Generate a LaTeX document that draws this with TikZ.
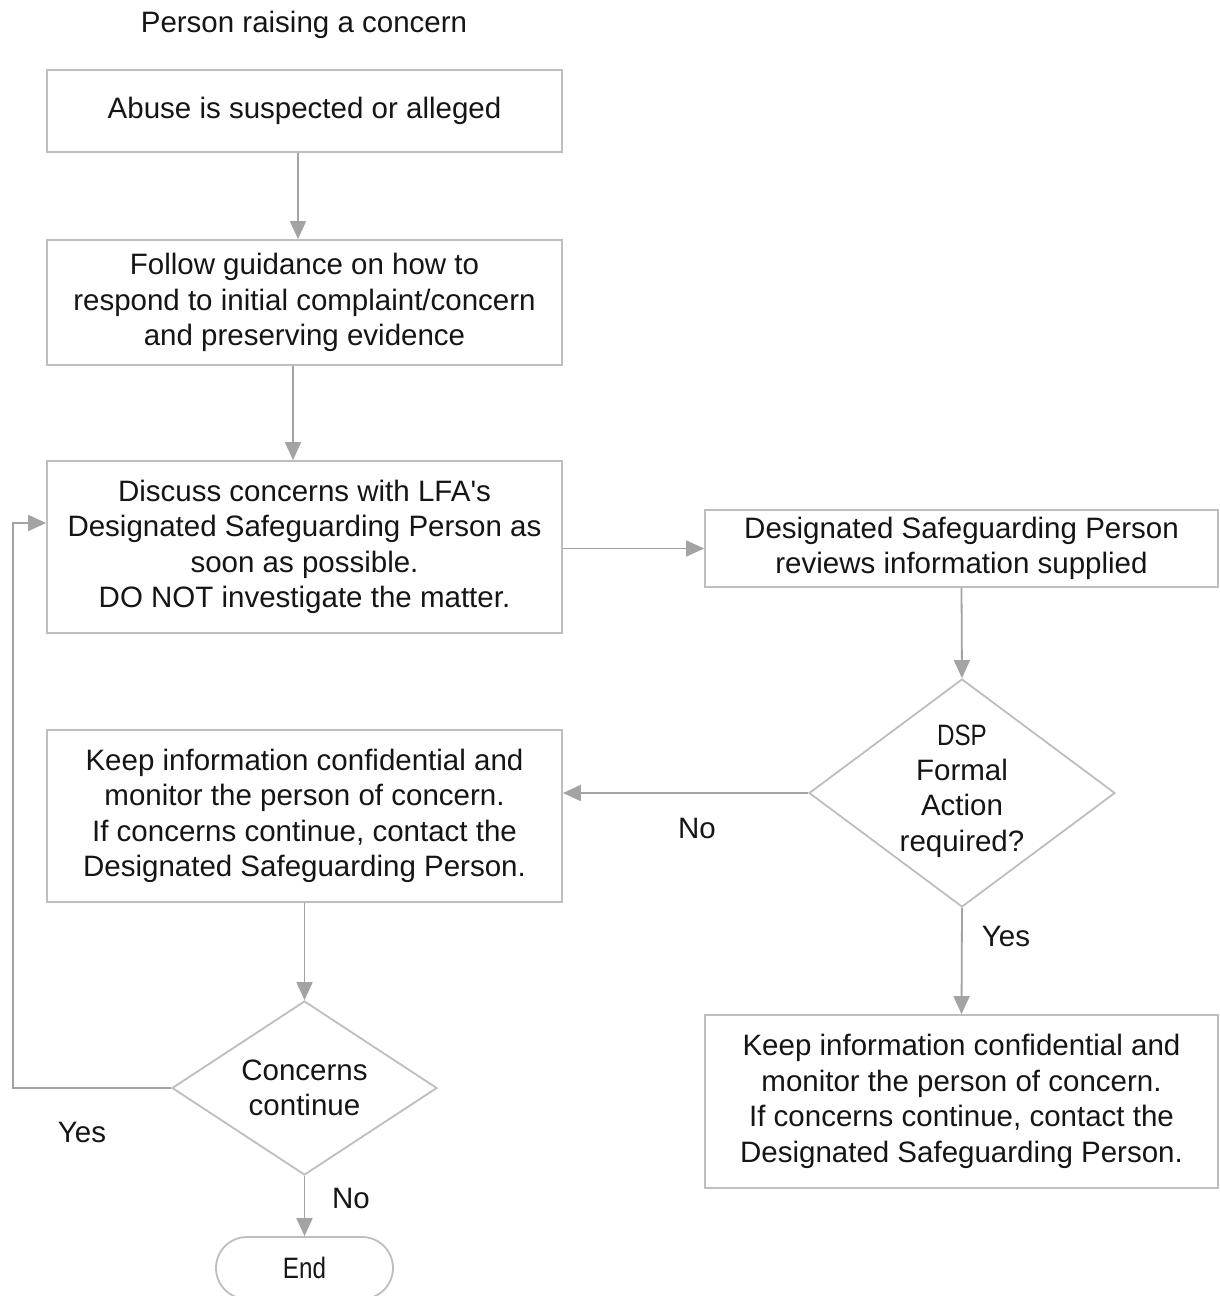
\documentclass[tikz,border=0pt]{standalone}
\usepackage{fontspec}
\setmainfont{Liberation Sans}
\newfontfamily\narrowsf[FakeStretch=0.82]{Liberation Sans}
\usetikzlibrary{arrows.meta,shapes.geometric,shapes.misc}
\definecolor{linecol}{HTML}{A3A3A3}
\definecolor{boxcol}{HTML}{BEBEBE}
\definecolor{txtcol}{HTML}{151515}
\begin{document}
\begin{tikzpicture}[x=1pt,y=-1pt,
  every node/.style={text=txtcol,font=\fontsize{29.5}{35.5}\selectfont},
  stepbox/.style={draw=boxcol,line width=1.8pt,rectangle,inner sep=0pt,align=center},
  decision/.style={draw=boxcol,line width=1.8pt,diamond,inner sep=0pt},
  terminal/.style={draw=boxcol,line width=1.8pt,rounded rectangle,inner sep=0pt},
  plain/.style={inner sep=0pt},
  conn/.style={draw=linecol,line width=1.8pt,-{Triangle[length=18pt,width=16pt]}}]
\useasboundingbox[fill=white] (0,0) rectangle (1219,1296);

\node[plain] (title) at (304,25) {Person raising a concern};

\node[stepbox,minimum width=515pt,minimum height=82pt] (b1) at (304.5,111)
  {Abuse is suspected or alleged};
\node[stepbox,minimum width=515pt,minimum height=125pt] (b2) at (304.5,302.5)
  {Follow guidance on how to\\respond to initial complaint/concern\\and preserving evidence};
\node[stepbox,minimum width=515pt,minimum height=172pt] (b3) at (304.5,547)
  {Discuss concerns with LFA\textquotesingle s\\Designated Safeguarding Person as\\soon as possible.\\DO NOT investigate the matter.};
\node[stepbox,minimum width=513pt,minimum height=77pt] (b4) at (961.5,548.5)
  {Designated Safeguarding Person\\reviews information supplied};
\node[decision,minimum width=306pt,minimum height=228pt] (d1) at (962,793) {};
\node[plain,align=center] (d1t) at (962,791)
  {{\narrowsf DSP}\\Formal\\Action\\required?};
\node[stepbox,minimum width=515pt,minimum height=172pt] (b5) at (304.5,816)
  {Keep information confidential and\\monitor the person of concern.\\If concerns continue, contact the\\Designated Safeguarding Person.};
\node[stepbox,minimum width=513pt,minimum height=173pt] (b6) at (961.5,1101.5)
  {Keep information confidential and\\monitor the person of concern.\\If concerns continue, contact the\\Designated Safeguarding Person.};
\node[decision,minimum width=265pt,minimum height=174pt] (d2) at (304.5,1088) {};
\node[plain,align=center] (d2t) at (304.5,1088) {Concerns\\continue};
\node[terminal,minimum width=177pt,minimum height=62pt] (end) at (304.5,1268)
  {\narrowsf End};

\coordinate (loopa) at (13,1088);
\coordinate (loopb) at (13,523);

\draw[conn] ([xshift=-6.5pt]b1.south) -- ([xshift=-6.5pt]b2.north);
\draw[conn] ([xshift=-11.5pt]b2.south) -- ([xshift=-11.5pt]b3.north);
\draw[conn] (b3.east |- b4.west) -- (b4.west);
\draw[conn] (b4.south) -- (d1.north);
\draw[conn] (d1.west) -- (b5.east |- d1.west);
\draw[conn] (d1.south) -- (b6.north);
\draw[conn] (b5.south) -- (d2.north);
\draw[conn] (d2.south) -- (end.north);
\draw[conn] (d2.west) -- (loopa) -- (loopb) -- (b3.west |- loopb);

\node[plain] (lno1) at (697,828) {No};
\node[plain] (lyes1) at (1006,936) {Yes};
\node[plain] (lyes2) at (82,1132) {Yes};
\node[plain] (lno2) at (351,1198) {No};
\end{tikzpicture}
\end{document}
